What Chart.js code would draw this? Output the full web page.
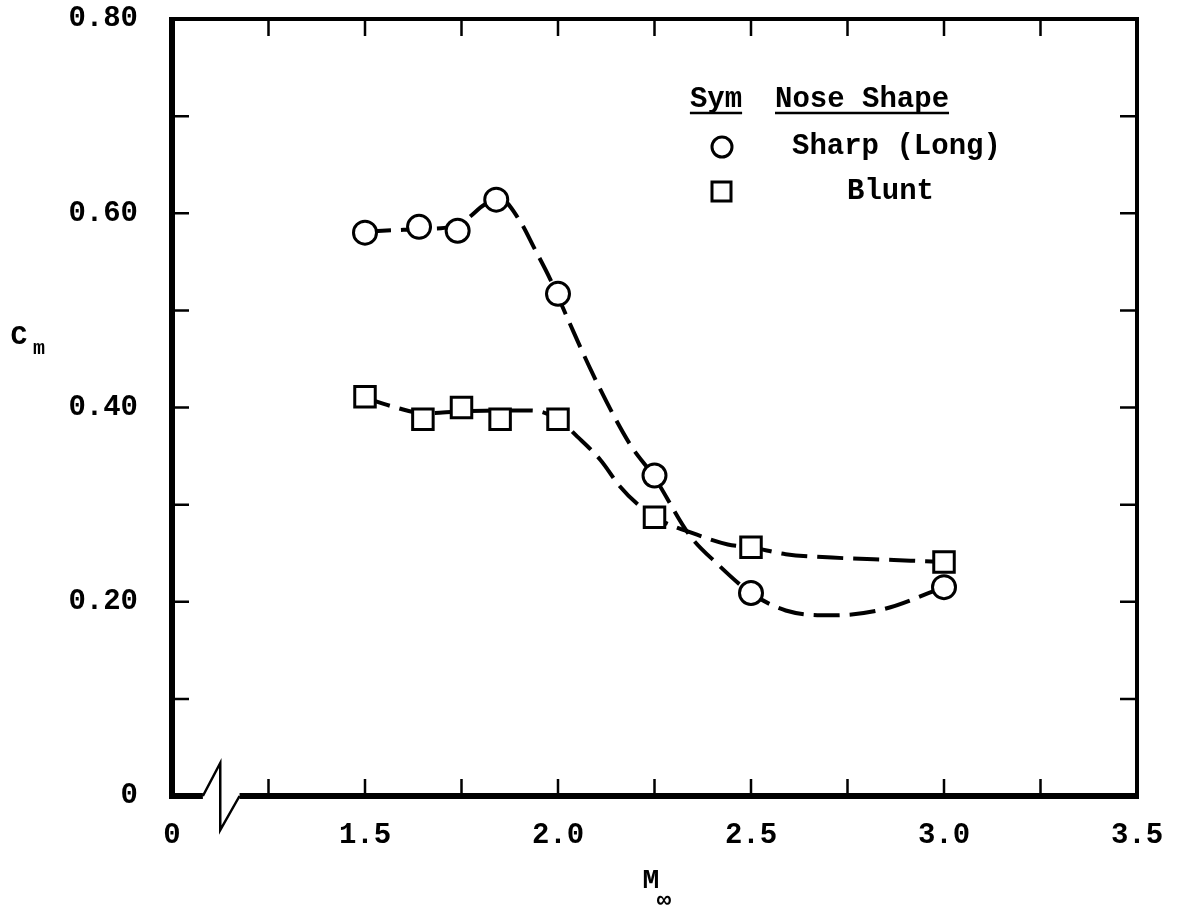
<!DOCTYPE html>
<html>
<head>
<meta charset="utf-8">
<script src="https://cdn.jsdelivr.net/npm/chart.js@4.4.0/dist/chart.umd.min.js"></script>
<style>
  html, body { margin: 0; padding: 0; background: #fff; }
</style>
</head>
<body>
<canvas id="cmChart" width="1193" height="909"></canvas>
<script>
// test points (Mach number vs Cm)
const sharpMach = [1.50, 1.64, 1.74, 1.84, 2.00, 2.25, 2.50, 3.00];
const sharpCm   = [0.580, 0.586, 0.582, 0.614, 0.517, 0.330, 0.209, 0.215];
const bluntMach = [1.50, 1.65, 1.75, 1.85, 2.00, 2.25, 2.50, 3.00];
const bluntCm   = [0.411, 0.388, 0.400, 0.388, 0.388, 0.287, 0.256, 0.241];

// faired (dashed) curves
const sharpFairMach = [1.50, 1.60, 1.67, 1.72, 1.76, 1.81, 1.85, 1.90, 1.94, 1.98, 2.03, 2.08, 2.14, 2.19, 2.25, 2.34, 2.41, 2.50, 2.59, 2.71, 2.84, 3.00];
const sharpFairCm   = [0.581, 0.583, 0.584, 0.586, 0.593, 0.609, 0.615, 0.593, 0.563, 0.532, 0.487, 0.443, 0.395, 0.360, 0.328, 0.269, 0.240, 0.209, 0.191, 0.186, 0.192, 0.215];
const bluntFairMach = [1.50, 1.58, 1.65, 1.75, 1.85, 1.93, 2.00, 2.05, 2.11, 2.16, 2.21, 2.25, 2.36, 2.44, 2.50, 2.59, 2.71, 2.87, 3.00];
const bluntFairCm   = [0.410, 0.400, 0.394, 0.396, 0.397, 0.397, 0.388, 0.370, 0.346, 0.319, 0.299, 0.287, 0.269, 0.259, 0.256, 0.249, 0.2455, 0.243, 0.241];

// axis ticks (left end of the broken axis is labelled 0)
const xTickValues = [1.0, 1.5, 2.0, 2.5, 3.0, 3.5];
const xTickLabels = ['0', '1.5', '2.0', '2.5', '3.0', '3.5'];
const yTickValues = [0, 0.2, 0.4, 0.6, 0.8];
const yTickLabels = ['0', '0.20', '0.40', '0.60', '0.80'];

const FONT = 'Liberation Mono';

function pts(xs, ys) {
    return xs.map((x, i) => ({ x: x, y: ys[i] }));
}

function lookup(values, labels, v) {
    const i = values.findIndex(t => Math.abs(t - v) < 1e-6);
    return i >= 0 ? labels[i] : '';
}

const framePlugin = {
    id: 'frame',
    afterDraw(chart) {
        const ctx = chart.ctx;
        const xs = chart.scales.x, ys = chart.scales.y;
        const a = chart.chartArea;
        const L = a.left, R = a.right, T = a.top, B = a.bottom;
        ctx.save();
        ctx.strokeStyle = '#000';
        ctx.lineCap = 'butt';

        // top and right border
        ctx.lineWidth = 4;
        ctx.beginPath();
        ctx.moveTo(L, T); ctx.lineTo(R, T); ctx.lineTo(R, B + 2);
        ctx.stroke();

        // left axis
        ctx.lineWidth = 6;
        ctx.beginPath();
        ctx.moveTo(L, T - 2); ctx.lineTo(L, B + 3);
        ctx.stroke();

        // bottom axis with break
        const b1 = xs.getPixelForValue(1.08);
        const b2 = xs.getPixelForValue(1.125);
        const b3 = xs.getPixelForValue(1.175);
        ctx.beginPath();
        ctx.moveTo(L - 3, B); ctx.lineTo(b1, B);
        ctx.moveTo(b3, B); ctx.lineTo(R + 2, B);
        ctx.stroke();
        ctx.lineWidth = 2.5;
        ctx.lineJoin = 'miter';
        ctx.beginPath();
        ctx.moveTo(b1, B); ctx.lineTo(b2, B - 33); ctx.lineTo(b2, B + 34); ctx.lineTo(b3, B);
        ctx.stroke();

        // inward ticks
        ctx.lineWidth = 2.5;
        const tl = 17;
        ctx.beginPath();
        for (let v = 1.25; v < 3.5 - 1e-6; v += 0.25) {
            const px = xs.getPixelForValue(v);
            ctx.moveTo(px, B); ctx.lineTo(px, B - tl);
            ctx.moveTo(px, T); ctx.lineTo(px, T + tl);
        }
        for (let k = 1; k < 8; k++) {
            const py = ys.getPixelForValue(k / 10);
            ctx.moveTo(L, py); ctx.lineTo(L + tl, py);
            ctx.moveTo(R, py); ctx.lineTo(R - tl, py);
        }
        ctx.stroke();

        // axis titles
        ctx.fillStyle = '#000';
        ctx.textAlign = 'center';
        ctx.textBaseline = 'middle';
        ctx.font = 'bold 28px ' + FONT;
        ctx.fillText('C', 19, 337);
        ctx.fillText('M', 651, 881);
        ctx.font = 'bold 20px ' + FONT;
        ctx.fillText('m', 39, 349);
        ctx.font = 'bold 24px ' + FONT;
        ctx.fillText('\u221E', 664, 901);

        // legend
        ctx.font = 'bold 29px ' + FONT;
        ctx.textAlign = 'center';
        ctx.fillText('Sym', 716, 100);
        ctx.textAlign = 'left';
        ctx.fillText('Nose Shape', 775, 100);
        ctx.fillText('Sharp (Long)', 792, 147);
        ctx.fillText('Blunt', 847, 192);
        const wSym = ctx.measureText('Sym').width;
        const wNose = ctx.measureText('Nose Shape').width;
        ctx.lineWidth = 2.5;
        ctx.beginPath();
        ctx.moveTo(716 - wSym / 2, 113); ctx.lineTo(716 + wSym / 2, 113);
        ctx.moveTo(775, 113); ctx.lineTo(775 + wNose, 113);
        ctx.stroke();
        ctx.lineWidth = 3;
        ctx.beginPath();
        ctx.arc(722, 147, 10, 0, Math.PI * 2);
        ctx.stroke();
        ctx.strokeRect(712, 182, 19, 19);

        ctx.restore();
    }
};

const ctx = document.getElementById('cmChart').getContext('2d');

const cmChart = new Chart(ctx, {
    type: 'scatter',
    data: {
        datasets: [{
            label: 'Sharp (Long)',
            data: pts(sharpMach, sharpCm),
            pointStyle: 'circle',
            pointRadius: 11.5,
            pointBorderWidth: 3,
            pointBackgroundColor: '#fff',
            pointBorderColor: '#000',
            showLine: false,
            order: 0
        }, {
            label: 'Blunt',
            data: pts(bluntMach, bluntCm),
            pointStyle: 'rect',
            pointRadius: 14.5,
            pointBorderWidth: 3,
            pointBackgroundColor: '#fff',
            pointBorderColor: '#000',
            showLine: false,
            order: 0
        }, {
            label: 'Sharp fairing',
            data: pts(sharpFairMach, sharpFairCm),
            showLine: true,
            pointRadius: 0,
            borderColor: '#000',
            borderWidth: 4,
            borderDash: [26, 10],
            cubicInterpolationMode: 'monotone',
            order: 2
        }, {
            label: 'Blunt fairing',
            data: pts(bluntFairMach, bluntFairCm),
            showLine: true,
            pointRadius: 0,
            borderColor: '#000',
            borderWidth: 4,
            borderDash: [26, 10],
            cubicInterpolationMode: 'monotone',
            order: 2
        }]
    },
    options: {
        responsive: false,
        animation: false,
        devicePixelRatio: 1,
        layout: { padding: { top: 19, right: 56, left: 0, bottom: 0 } },
        plugins: {
            legend: { display: false },
            tooltip: { enabled: false }
        },
        scales: {
            x: {
                type: 'linear',
                position: 'bottom',
                min: 1.0,
                max: 3.5,
                grid: { display: false, drawTicks: false },
                border: { display: false },
                ticks: {
                    stepSize: 0.25,
                    autoSkip: false,
                    maxRotation: 0,
                    padding: 22,
                    color: '#000',
                    font: { family: FONT, weight: 'bold', size: 29 },
                    callback: v => lookup(xTickValues, xTickLabels, v)
                },
                afterFit: s => { s.height = 113; s.paddingLeft = 0; s.paddingRight = 0; }
            },
            y: {
                type: 'linear',
                position: 'left',
                min: 0,
                max: 0.8,
                grid: { display: false, drawTicks: false },
                border: { display: false },
                ticks: {
                    stepSize: 0.1,
                    autoSkip: false,
                    padding: 34,
                    color: '#000',
                    font: { family: FONT, weight: 'bold', size: 29 },
                    callback: v => lookup(yTickValues, yTickLabels, v)
                },
                afterFit: s => { s.width = 172; s.paddingTop = 0; s.paddingBottom = 0; }
            }
        }
    },
    plugins: [framePlugin]
});
</script>
</body>
</html>
